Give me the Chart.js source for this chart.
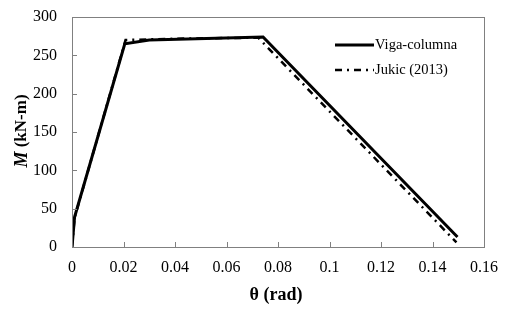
<!DOCTYPE html>
<html>
<head>
<meta charset="utf-8">
<script src="https://cdn.jsdelivr.net/npm/chart.js@4/dist/chart.umd.min.js"></script>
<style>
	html, body { margin: 0; padding: 0; background: #fff; }
	#wrap { width: 513px; height: 310px; }
</style>
</head>
<body>
<div id="wrap"><canvas id="momentChart" width="513" height="310"></canvas></div>
<script>
// M - theta curves

const seriesNames = ["Viga-columna", "Jukic (2013)"];
const vigaTheta = [0, 0.001, 0.0205, 0.030, 0.0742, 0.1497];
const vigaMoment = [0, 39, 265, 270, 274, 13];
const jukicTheta = [0, 0.001, 0.0208, 0.045, 0.0723, 0.1493];
const jukicMoment = [0, 38, 270, 272, 273, 6];
const xTicks = [0, 0.02, 0.04, 0.06, 0.08, 0.1, 0.12, 0.14, 0.16];
const yTicks = [0, 50, 100, 150, 200, 250, 300];

const toPoints = (xs, ys) => xs.map((x, i) => ({ x: x, y: ys[i] }));

const serif = "'Liberation Serif', 'DejaVu Serif', serif";

// box, inside tick marks, legend and axis titles
const framePlugin = {
	id: "frame",
	afterDraw(chart) {
		const ctx = chart.ctx;
		const a = chart.chartArea;
		const xs = chart.scales.x;
		const ys = chart.scales.y;
		ctx.save();
		ctx.strokeStyle = "#808080";
		ctx.lineWidth = 1;
		ctx.strokeRect(Math.round(a.left) + 0.5, Math.round(a.top) + 0.5,
			Math.round(a.right - a.left), Math.round(a.bottom - a.top));
		ctx.beginPath();
		xTicks.forEach(v => {
			const px = Math.round(xs.getPixelForValue(v)) + 0.5;
			ctx.moveTo(px, a.bottom);
			ctx.lineTo(px, a.bottom - 5);
		});
		yTicks.forEach(v => {
			const py = Math.round(ys.getPixelForValue(v)) + 0.5;
			ctx.moveTo(a.left, py);
			ctx.lineTo(a.left + 5, py);
		});
		ctx.stroke();

		// legend
		const ds = chart.data.datasets;
		const rows = [45, 70];
		ds.forEach((d, i) => {
			ctx.strokeStyle = "#000";
			ctx.lineWidth = d.borderWidth;
			ctx.setLineDash(d.borderDash || []);
			ctx.beginPath();
			ctx.moveTo(335, rows[i]);
			ctx.lineTo(374, rows[i]);
			ctx.stroke();
			ctx.setLineDash([]);
			ctx.fillStyle = "#000";
			ctx.font = "14.5px " + serif;
			ctx.textAlign = "left";
			ctx.textBaseline = "middle";
			ctx.fillText(seriesNames[i], 375, rows[i]);
		});

		// x title
		ctx.font = "bold 18px " + serif;
		ctx.textAlign = "center";
		ctx.textBaseline = "middle";
		ctx.fillText("\u03b8 (rad)", 276, 295);

		// y title, italic M
		ctx.translate(22, 131);
		ctx.rotate(-Math.PI / 2);
		ctx.textAlign = "left";
		const m = "M";
		const rest = " (kN-m)";
		ctx.font = "italic bold 18px " + serif;
		const wM = ctx.measureText(m).width;
		ctx.font = "bold 17px " + serif;
		const wR = ctx.measureText(rest).width;
		const start = -(wM + wR) / 2;
		ctx.font = "italic bold 18px " + serif;
		ctx.fillText(m, start, 0);
		ctx.font = "bold 17px " + serif;
		ctx.fillText(rest, start + wM, 0);
		ctx.restore();
	},
};

const momentData = {
	datasets: [
		{
			label: seriesNames[0],
			data: toPoints(vigaTheta, vigaMoment),
			borderColor: "#000",
			borderWidth: 3,
			showLine: true,
			pointRadius: 0,
		},
		{
			label: seriesNames[1],
			data: toPoints(jukicTheta, jukicMoment),
			borderColor: "#000",
			borderWidth: 2.5,
			borderDash: [7, 5, 2, 5],
			showLine: true,
			pointRadius: 0,
		},
	],
};

const momentConfig = {
	type: "scatter",
	data: momentData,
	options: {
		responsive: false,
		animation: false,
		layout: { padding: { left: 0, top: 17, right: 29, bottom: 0 } },
		plugins: { legend: { display: false }, tooltip: { enabled: false } },
		scales: {
			x: {
				type: "linear",
				min: 0,
				max: 0.16,
				afterBuildTicks: s => { s.ticks = xTicks.map(v => ({ value: v })); },
				afterFit: s => { s.height = 63; s.paddingLeft = 0; s.paddingRight = 0; },
				grid: { display: false, drawTicks: false },
				border: { display: false },
				ticks: {
					padding: 11,
					color: "#000",
					font: { family: serif, size: 16 },
					maxRotation: 0,
					callback: v => String(+v.toFixed(2)),
				},
			},
			y: {
				min: 0,
				max: 300,
				afterBuildTicks: s => { s.ticks = yTicks.map(v => ({ value: v })); },
				afterFit: s => { s.width = 72; s.paddingTop = 0; s.paddingBottom = 0; },
				grid: { display: false, drawTicks: false },
				border: { display: false },
				ticks: {
					padding: 15,
					color: "#000",
					font: { family: serif, size: 16 },
				},
			},
		},
	},
	plugins: [framePlugin],
};

const MomentChart = new Chart(document.getElementById("momentChart"), momentConfig);
</script>
</body>
</html>
